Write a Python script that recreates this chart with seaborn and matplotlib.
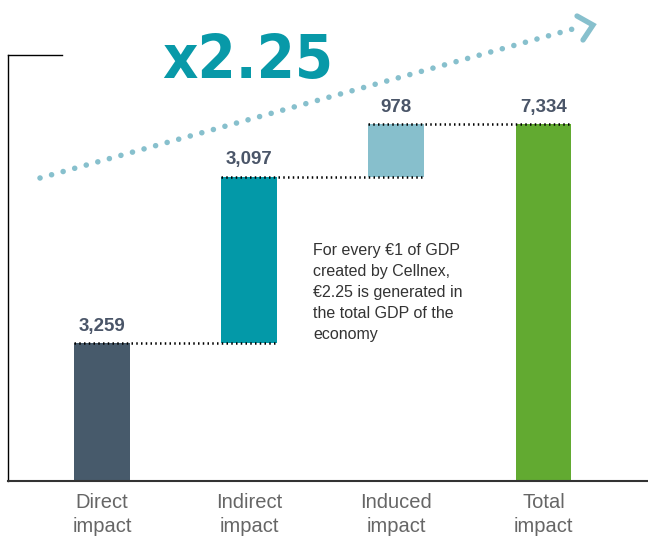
import pandas as pd
import seaborn as sns
import matplotlib.pyplot as plt
from matplotlib.lines import Line2D

# -----------------------------
# DATA
# -----------------------------
categories = ["Direct\nimpact", "Indirect\nimpact", "Induced\nimpact", "Total\nimpact"]
values = [3259, 3097, 978, 7334]
bases = [0, 3259, 6356, 0]
labels = ["3,259", "3,097", "978", "7,334"]
colors = ["#475a6b", "#0399a8", "#87bfcc", "#62aa31"]
multiplier = "x2.25"
note = ("For every €1 of GDP\ncreated by Cellnex,\n€2.25 is generated in\n"
        "the total GDP of the\neconomy")

# -----------------------------
# SETUP
# -----------------------------
sns.set_theme(style="white")
plt.rcParams['font.family'] = ['Liberation Sans', 'DejaVu Sans']

W, H = 648, 539
fig = plt.figure(figsize=(W / 100, H / 100), dpi=100)
ax = fig.add_axes([8 / W, 58 / H, 640 / W, 426 / H])

df = pd.DataFrame({"cat": categories, "value": values, "base": bases})
bar_w = 0.38

# waterfall bars, one call per bar so each gets its own bottom
for i, row in df.iterrows():
    sns.barplot(x=[row["cat"]], y=[row["value"]], bottom=row["base"],
                order=categories, color=colors[i], saturation=1,
                width=bar_w, linewidth=0, ax=ax)

ax.set_xlim(-0.64, 3.71)
ax.set_ylim(691, 8618)

# dotted connectors
tops = df["base"] + df["value"]
for i in range(len(df) - 1):
    ax.plot([i - bar_w / 2, i + 1 + bar_w / 2], [tops[i], tops[i]],
            color="black", lw=1.8, ls=(0, (0.6, 1.3)), zorder=5)

# value labels
for i, lab in enumerate(labels):
    ax.annotate(lab, (i, tops[i]), xytext=(0, 6), textcoords="offset points",
                ha="center", va="bottom", fontsize=13.5, fontweight="bold",
                color="#4a5568")

# axes styling
ax.set_xlabel("")
ax.set_ylabel("")
ax.set_yticks([])
ax.tick_params(axis="x", length=0, pad=9, labelsize=14.5, labelcolor="#666666")
ax.spines["right"].set_visible(False)
ax.spines["left"].set_color("black")
ax.spines["left"].set_linewidth(1.0)
ax.spines["top"].set_color("black")
ax.spines["top"].set_linewidth(1.0)
ax.spines["top"].set_bounds(-0.64, -0.27)
ax.spines["bottom"].set_color("#333333")
ax.spines["bottom"].set_linewidth(1.5)
for t in ax.get_xticklabels():
    t.set_linespacing(1.3)

# growth arrow
arrow_c = "#87c0cd"
fig.add_artist(Line2D([40 / W, 580 / W], [1 - 178 / H, 1 - 27 / H], color=arrow_c,
                      lw=4.0, ls=(0, (0.01, 2.15)), dash_capstyle="round"))
fig.add_artist(Line2D([577 / W, 593 / W, 583 / W], [1 - 16 / H, 1 - 25 / H, 1 - 40 / H],
                      color=arrow_c, lw=3.8, solid_joinstyle="miter"))

fig.text(162 / W, 1 - 78 / H, multiplier, fontsize=44, fontweight="heavy",
         color="#0899a8", ha="left", va="baseline",
         family="DejaVu Sans", fontstretch="condensed")

fig.text(313 / W, 1 - 243 / H, note, fontsize=11.5, color="#333333",
         ha="left", va="top", linespacing=1.5)

plt.savefig("out.png", dpi=100)
plt.close()
